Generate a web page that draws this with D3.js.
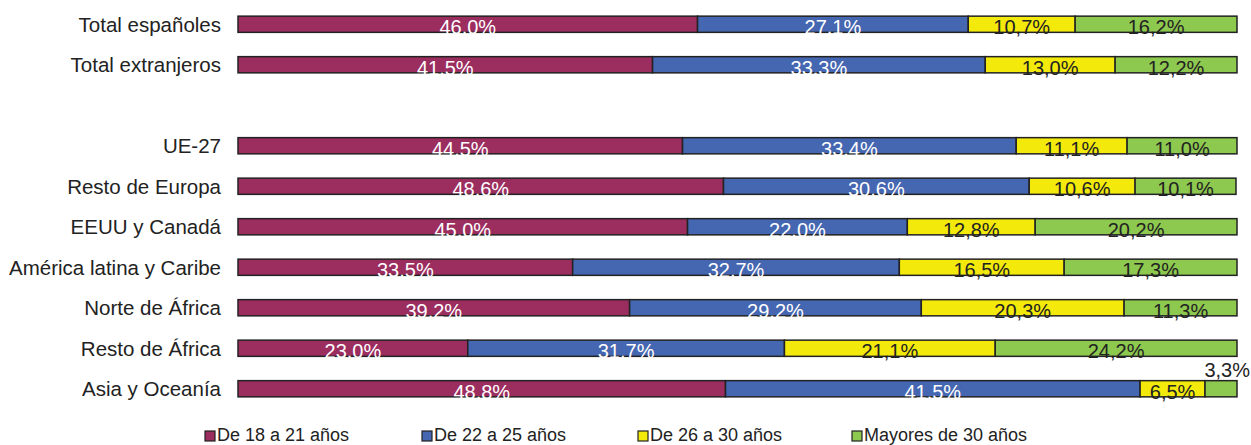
<!DOCTYPE html>
<html>
<head>
<meta charset="utf-8">
<script src="https://cdn.jsdelivr.net/npm/d3@7"></script>
<style>
  body { margin: 0; background: #fff; }
  svg { font-family: "Liberation Sans", Arial, sans-serif; }
</style>
</head>
<body>
<div id="chart"></div>
<script>
// Rows, top to bottom; null marks the empty row between the totals and the regions
const categories = ["Total españoles", "Total extranjeros", null, "UE-27", "Resto de Europa",
  "EEUU y Canadá", "América latina y Caribe", "Norte de África", "Resto de África", "Asia y Oceanía"];
const seriesNames = ["De 18 a 21 años", "De 22 a 25 años", "De 26 a 30 años", "Mayores de 30 años"];
const age18to21 = [46.0, 41.5, null, 44.5, 48.6, 45.0, 33.5, 39.2, 23.0, 48.8];
const age22to25 = [27.1, 33.3, null, 33.4, 30.6, 22.0, 32.7, 29.2, 31.7, 41.5];
const age26to30 = [10.7, 13.0, null, 11.1, 10.6, 12.8, 16.5, 20.3, 21.1, 6.5];
const over30 = [16.2, 12.2, null, 11.0, 10.1, 20.2, 17.3, 11.3, 24.2, 3.3];

const colors = ["#9b2d5f", "#4566b0", "#f3ea0c", "#8dc84f"];
const textColors = ["#fff", "#fff", "#222", "#222"];

const width = 1251, height = 445;
const svg = d3.select("#chart").append("svg").attr("width", width).attr("height", height);

const x = d3.scaleLinear().domain([0, 100]).range([238, 1237]);
const y = d3.scaleBand().domain(d3.range(categories.length)).range([4, 409]).paddingInner(0.6).paddingOuter(0.3);

const series = [age18to21, age22to25, age26to30, over30];
const fmt = (v) => v.toFixed(1).replace(".", ",") + "%";

categories.forEach((cat, i) => {
  if (cat === null) return;
  const g = svg.append("g");
  const yy = y(i), bh = y.bandwidth();
  g.append("text")
    .attr("x", 221).attr("y", yy + bh / 2).attr("dy", "0.36em")
    .attr("text-anchor", "end").attr("font-size", 20.5).attr("fill", "#222")
    .text(cat);

  let start = 0;
  series.forEach((s, k) => {
    const v = s[i];
    const end = Math.min(100, start + v);
    g.append("rect")
      .attr("x", x(start)).attr("y", yy)
      .attr("width", x(end) - x(start)).attr("height", bh)
      .attr("fill", colors[k]).attr("stroke", "#222").attr("stroke-width", 1.5);
    // segments too narrow for their label get it written above the bar
    const small = x(end) - x(start) < 40;
    g.append("text")
      .attr("x", small ? x(end) + 13 : (x(start) + x(end)) / 2)
      .attr("y", small ? yy - 4 : yy + bh + 2)
      .attr("text-anchor", small ? "end" : "middle")
      .attr("font-size", 20)
      .attr("fill", small ? "#222" : textColors[k])
      .text(fmt(v));
    start = end;
  });
});

// Legend
const legendX = [205, 422, 638, 852];
seriesNames.forEach((name, k) => {
  const g = svg.append("g").attr("transform", `translate(${legendX[k]},435)`);
  g.append("rect").attr("x", 0).attr("y", -4).attr("width", 10).attr("height", 10)
    .attr("fill", colors[k]).attr("stroke", "#222").attr("stroke-width", 1.2);
  g.append("text").attr("x", 12).attr("y", 0).attr("dy", "0.36em")
    .attr("font-size", 18).attr("fill", "#222").text(name);
});
</script>
</body>
</html>
